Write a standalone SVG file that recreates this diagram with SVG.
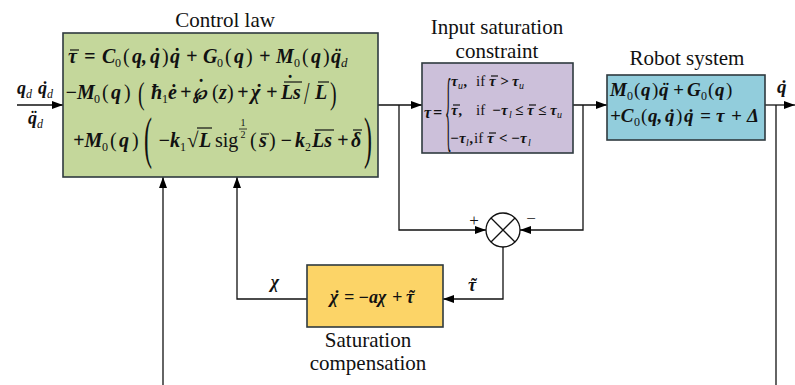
<svg xmlns="http://www.w3.org/2000/svg" width="795" height="385" viewBox="0 0 795 385">
<defs>
<marker id="arr" viewBox="0 0 11 8" refX="11" refY="4" markerWidth="11" markerHeight="8" markerUnits="userSpaceOnUse" orient="auto">
<path d="M0,0 L11,4 L0,8 Z" fill="#000"/>
</marker>
<style>
.box{stroke:#2f3a3f;stroke-width:1.6}
.ln{fill:none;stroke:#111;stroke-width:1.3}
.ob{stroke:#111;stroke-width:1.2}
.t{font-family:"Liberation Serif","Times New Roman",serif;font-size:21px;fill:#111}
.m{font-family:"Liberation Serif","Times New Roman",serif;font-weight:bold;font-style:italic;fill:#111}
.r{font-weight:normal;font-style:normal}
.i{font-weight:normal;font-style:italic}
.p{font-family:"Liberation Serif","Times New Roman",serif;font-weight:normal;font-style:normal;fill:#111}
.ac{font-family:"Liberation Serif","Times New Roman",serif;font-weight:bold;font-style:normal;text-anchor:middle;fill:#111}
</style>
</defs>
<rect width="795" height="385" fill="#fff"/>

<g id="connectors">
<path class="ln" d="M17,105 H63" marker-end="url(#arr)"/>
<path class="ln" d="M378,105 H422" marker-end="url(#arr)"/>
<path class="ln" d="M399,105 V230 H486" marker-end="url(#arr)"/>
<path class="ln" d="M573,105 H607" marker-end="url(#arr)"/>
<path class="ln" d="M583,105 V230 H520" marker-end="url(#arr)"/>
<path class="ln" d="M765,105 H795" marker-end="url(#arr)"/>
<path class="ln" d="M776,105 V385"/>
<path class="ln" d="M503,247 V299 H443" marker-end="url(#arr)"/>
<path class="ln" d="M307,299 H237 V177" marker-end="url(#arr)"/>
<path class="ln" d="M163,385 V177" marker-end="url(#arr)"/>
<text class="m" font-size="18" y="94"><tspan x="17">q</tspan><tspan class="i" font-size="12" x="26" y="98">d</tspan><tspan x="38" y="94">q</tspan><tspan class="i" font-size="12" x="47" y="98">d</tspan></text>
<text class="ac" font-size="18" x="45" y="94">˙</text>
<text class="m" font-size="18" y="124"><tspan x="28">q</tspan><tspan class="i" font-size="12" x="37" y="128">d</tspan></text>
<text class="ac" font-size="18" x="34" y="124">¨</text>
<text class="m" font-size="19" x="777" y="93">q</text>
<text class="ac" font-size="19" x="784" y="93">˙</text>
<text class="m" font-size="18" x="275" y="288" text-anchor="middle">χ</text>
<text class="m" font-size="18" x="468" y="291">τ</text>
<text class="ac" font-size="18" x="474" y="291">˜</text>
<text class="p" font-size="17" x="474" y="226" text-anchor="middle">+</text>
<text class="p" font-size="17" x="531" y="224" text-anchor="middle">−</text>
</g>

<g id="control-law">
<text class="t" x="225" y="27" text-anchor="middle">Control law</text>
<rect class="box" x="63" y="33" width="315" height="144" fill="#c4d79b"/>
<text class="m" font-size="20" y="63"><tspan x="68">τ</tspan><tspan x="84">=</tspan><tspan x="102">C</tspan><tspan class="r" font-size="12" x="115" y="67">0</tspan><tspan class="p" x="123" y="63">(</tspan><tspan x="132">q,</tspan><tspan x="150">q</tspan><tspan class="p" x="162">)</tspan><tspan x="170">q</tspan><tspan x="186">+</tspan><tspan x="203">G</tspan><tspan class="r" font-size="12" x="217" y="67">0</tspan><tspan class="p" x="225" y="63">(</tspan><tspan x="234">q</tspan><tspan class="p" x="246">)</tspan><tspan x="259">+</tspan><tspan x="276">M</tspan><tspan class="r" font-size="12" x="294" y="67">0</tspan><tspan class="p" x="302" y="63">(</tspan><tspan x="311">q</tspan><tspan class="p" x="323">)</tspan><tspan x="331">q</tspan><tspan class="i" font-size="13" x="341" y="67">d</tspan></text>
<line class="ob" x1="70" y1="50" x2="79" y2="50"/>
<text class="ac" font-size="20" x="157" y="63">˙</text>
<text class="ac" font-size="20" x="177" y="63">˙</text>
<text class="ac" font-size="20" x="338" y="63">¨</text>

<text class="m" font-size="20" y="99"><tspan x="65">−M</tspan><tspan class="r" font-size="12" x="94" y="103">0</tspan><tspan class="p" x="102" y="99">(</tspan><tspan x="111">q</tspan><tspan class="p" x="124">)</tspan><tspan x="151">ħ</tspan><tspan class="r" font-size="12" x="162" y="103">1</tspan><tspan x="168" y="99">ė</tspan><tspan x="180">+</tspan><tspan font-size="16" x="193">℘</tspan><tspan class="p" x="212">(</tspan><tspan x="219">z</tspan><tspan class="p" x="227">)</tspan><tspan x="237">+</tspan><tspan x="251">χ</tspan><tspan x="266">+</tspan><tspan x="281">L</tspan><tspan x="293">s</tspan><tspan x="315">L</tspan></text>
<text class="p" font-size="22" transform="translate(138,104) scale(0.9,1.4)">(</text>
<text class="p" font-size="22" transform="translate(304,104) scale(0.9,1.4)">/</text>
<text class="p" font-size="22" transform="translate(330,104) scale(0.9,1.4)">)</text>
<text class="ac" font-size="20" x="201" y="94">˙</text>
<text class="ac" font-size="20" x="259" y="99">˙</text>
<line class="ob" x1="284" y1="82" x2="302" y2="82"/>
<text class="ac" font-size="20" x="290" y="90">˙</text>
<line class="ob" x1="318" y1="82" x2="329" y2="82"/>

<text class="m" font-size="20" y="147"><tspan x="73">+M</tspan><tspan class="r" font-size="12" x="102" y="151">0</tspan><tspan class="p" x="110" y="147">(</tspan><tspan x="119">q</tspan><tspan class="p" x="132">)</tspan><tspan x="158">−k</tspan><tspan class="r" font-size="12" x="180" y="151">1</tspan><tspan x="199" y="147">L</tspan><tspan class="p" x="215">sig</tspan><tspan class="p" x="250">(</tspan><tspan x="259">s</tspan><tspan class="p" x="269">)</tspan><tspan x="280">−</tspan><tspan x="295">k</tspan><tspan class="r" font-size="12" x="305" y="151">2</tspan><tspan x="312" y="147">Ls</tspan><tspan x="337">+</tspan><tspan x="351">δ</tspan></text>
<text class="p" font-size="30" transform="translate(144,157) scale(0.8,1.9)">(</text>
<text class="p" font-size="30" transform="translate(364,157) scale(0.8,1.9)">)</text>
<text class="p" font-size="21" x="187" y="147">√</text>
<line class="ob" x1="197" y1="128" x2="212" y2="128"/>
<text class="p" font-size="10" x="243" y="126" text-anchor="middle">1</text>
<line x1="239" y1="129" x2="247" y2="129" stroke="#111" stroke-width="0.8"/>
<text class="p" font-size="10" x="243" y="138" text-anchor="middle">2</text>
<line class="ob" x1="261" y1="134" x2="269" y2="134"/>
<line class="ob" x1="315" y1="130" x2="334" y2="130"/>
<line class="ob" x1="353" y1="130" x2="362" y2="130"/>
</g>

<g id="input-saturation">
<text class="t" x="497" y="34" text-anchor="middle">Input saturation</text>
<text class="t" x="497" y="58" text-anchor="middle">constraint</text>
<rect class="box" x="422" y="63" width="151" height="90" fill="#ccc0da"/>
<text class="m" font-size="16" y="118"><tspan x="424">τ</tspan><tspan x="433">=</tspan></text>
<text class="p" font-size="46" transform="translate(445,140) scale(0.3,1.95)">{</text>
<text class="m" font-size="15" y="86"><tspan x="451">τ</tspan><tspan class="i" font-size="10" x="458" y="89">u</tspan><tspan x="464" y="86">,</tspan><tspan class="r" x="476">if</tspan><tspan x="489">τ</tspan><tspan x="500">&gt;</tspan><tspan x="512">τ</tspan><tspan class="i" font-size="10" x="519" y="89">u</tspan></text>
<line class="ob" x1="491" y1="76" x2="498" y2="76"/>
<text class="m" font-size="15" y="115"><tspan x="451">τ</tspan><tspan x="459">,</tspan><tspan class="r" x="476">if</tspan><tspan x="492">−τ</tspan><tspan class="i" font-size="10" x="509" y="118">l</tspan><tspan x="515" y="115">≤</tspan><tspan x="527">τ</tspan><tspan x="538">≤</tspan><tspan x="550">τ</tspan><tspan class="i" font-size="10" x="557" y="118">u</tspan></text>
<line class="ob" x1="453" y1="105" x2="460" y2="105"/>
<line class="ob" x1="529" y1="105" x2="536" y2="105"/>
<text class="m" font-size="15" y="143"><tspan x="450">−τ</tspan><tspan class="i" font-size="10" x="466" y="146">l</tspan><tspan x="470" y="143">,</tspan><tspan class="r" x="474">if</tspan><tspan x="487">τ</tspan><tspan x="499">&lt;</tspan><tspan x="511">−τ</tspan><tspan class="i" font-size="10" x="528" y="146">l</tspan></text>
<line class="ob" x1="489" y1="133" x2="496" y2="133"/>
</g>

<g id="robot-system">
<text class="t" x="687" y="65" text-anchor="middle">Robot system</text>
<rect class="box" x="607" y="75" width="158" height="65" fill="#92cddc"/>
<text class="m" font-size="19" y="96"><tspan x="610">M</tspan><tspan class="r" font-size="12" x="627" y="100">0</tspan><tspan class="p" x="634" y="96">(</tspan><tspan x="641">q</tspan><tspan class="p" x="652">)</tspan><tspan x="659">q</tspan><tspan x="673">+</tspan><tspan x="687">G</tspan><tspan class="r" font-size="12" x="701" y="100">0</tspan><tspan class="p" x="708" y="96">(</tspan><tspan x="715">q</tspan><tspan class="p" x="726">)</tspan></text>
<text class="ac" font-size="19" x="666" y="96">¨</text>
<text class="m" font-size="19" y="122"><tspan x="610">+C</tspan><tspan class="r" font-size="12" x="634" y="126">0</tspan><tspan class="p" x="641" y="122">(</tspan><tspan x="648">q,</tspan><tspan x="665">q</tspan><tspan class="p" x="676">)</tspan><tspan x="684">q</tspan><tspan x="700">=</tspan><tspan x="716">τ</tspan><tspan x="731">+</tspan><tspan x="747">Δ</tspan></text>
<text class="ac" font-size="19" x="672" y="122">˙</text>
<text class="ac" font-size="19" x="691" y="122">˙</text>
</g>

<g id="sum-junction">
<circle cx="503" cy="230" r="17" fill="#fff" stroke="#111" stroke-width="1.3"/>
<path class="ln" d="M491,218 L515,242 M515,218 L491,242"/>
</g>

<g id="saturation-compensation">
<rect class="box" x="307" y="265" width="136" height="62" fill="#fcd467"/>
<text class="m" font-size="18" y="303"><tspan x="330">χ</tspan><tspan x="344">=</tspan><tspan x="358">−a</tspan><tspan x="378">χ</tspan><tspan x="392">+</tspan><tspan x="406">τ</tspan></text>
<text class="ac" font-size="18" x="337" y="303">˙</text>
<text class="ac" font-size="18" x="412" y="303">˜</text>
<text class="t" x="368" y="347" text-anchor="middle">Saturation</text>
<text class="t" x="368" y="370" text-anchor="middle">compensation</text>
</g>
</svg>
